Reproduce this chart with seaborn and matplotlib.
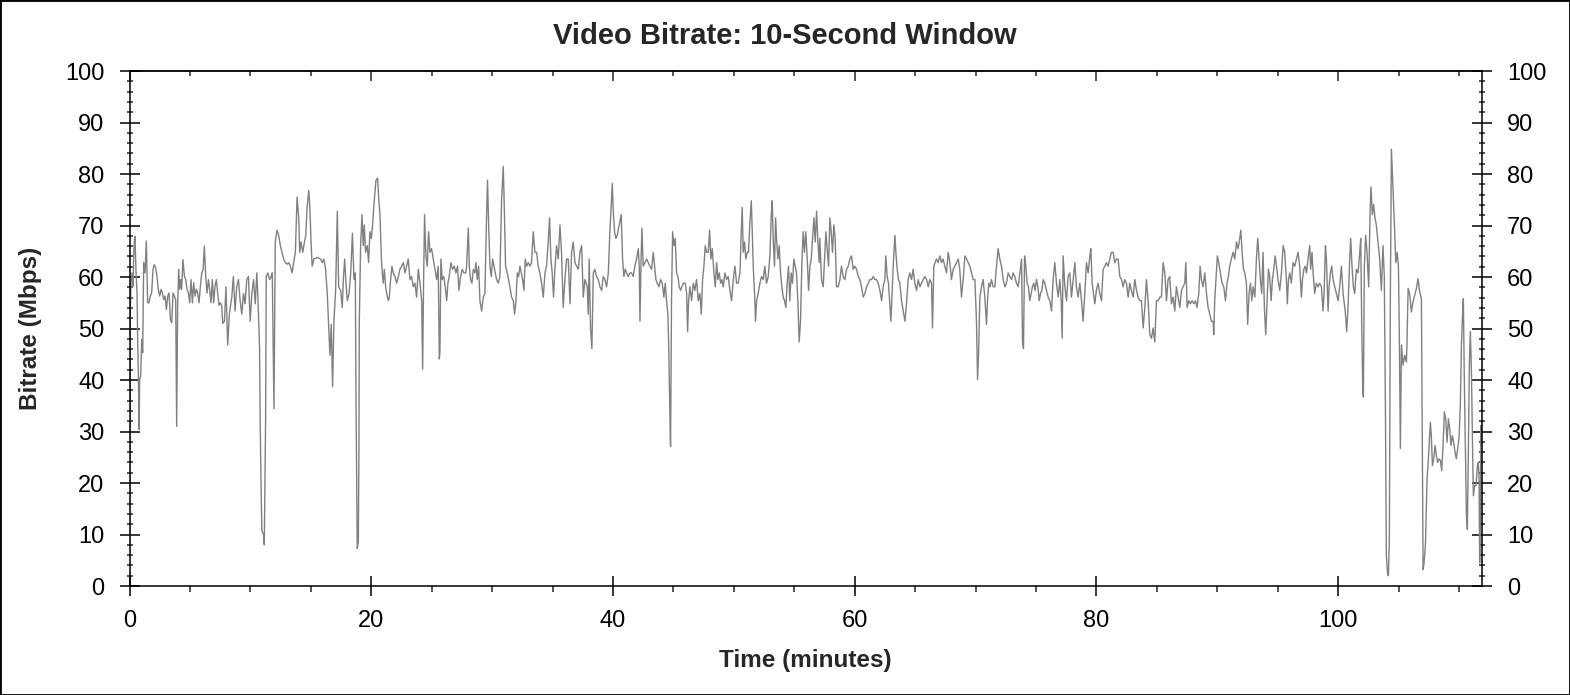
import matplotlib
matplotlib.use("Agg")
import matplotlib.pyplot as plt
from matplotlib.patches import Rectangle
from matplotlib.ticker import MultipleLocator
import pandas as pd
import seaborn as sns


TITLE = "Video Bitrate: 10-Second Window"
X_LABEL = "Time (minutes)"
Y_LABEL = "Bitrate (Mbps)"
X_MAX = 111.9
Y_MAX = 100
LINE_COLOR = "#808080"
OUTPUT_FILE = "out.png"


##############################################################################
# DATA  (minute, Mbps) pairs
##############################################################################

trace_00_08 = [
    (0.00, 0.0), (0.04, 50.5), (0.12, 58.9), (0.21, 60.8), (0.29, 58.2), (0.37, 66.0),
    (0.45, 67.9), (0.54, 60.8), (0.62, 56.9), (0.68, 46.6), (0.73, 41.4), (0.79, 30.4),
    (0.84, 40.1), (0.92, 40.7), (1.01, 47.9), (1.09, 45.3), (1.17, 62.8), (1.28, 60.8),
    (1.39, 67.0), (1.50, 55.0), (1.61, 55.0), (1.72, 56.3), (1.83, 56.9), (1.94, 61.5),
    (2.05, 62.4), (2.16, 61.8), (2.27, 60.2), (2.38, 57.6), (2.50, 56.3), (2.61, 57.6),
    (2.72, 56.9), (2.83, 55.6), (2.94, 56.3), (3.05, 53.7), (3.16, 56.3), (3.27, 56.9),
    (3.38, 51.7), (3.49, 51.1), (3.60, 56.9), (3.71, 56.3), (3.82, 55.6), (3.90, 31.0),
    (3.98, 54.3), (4.07, 61.5), (4.15, 57.6), (4.23, 59.5), (4.31, 57.6), (4.42, 63.4),
    (4.54, 60.2), (4.65, 59.5), (4.76, 57.6), (4.87, 56.9), (4.98, 55.0), (5.09, 59.5),
    (5.20, 55.0), (5.31, 58.9), (5.42, 56.3), (5.53, 57.6), (5.64, 56.9), (5.75, 55.0),
    (5.86, 58.2), (5.98, 60.8), (6.09, 61.5), (6.19, 66.0), (6.30, 60.2), (6.41, 56.9),
    (6.53, 59.5), (6.63, 57.6), (6.74, 55.0), (6.85, 59.5), (6.96, 55.0), (7.07, 58.2),
    (7.18, 59.5), (7.29, 56.9), (7.40, 54.5), (7.51, 55.0), (7.62, 54.5), (7.71, 51.0),
]

trace_08_18 = [
    (7.85, 51.4), (7.98, 58.1), (8.12, 46.8), (8.26, 52.8), (8.46, 56.1), (8.59, 60.1),
    (8.73, 53.4), (8.87, 58.1), (9.01, 59.5), (9.15, 55.4), (9.29, 52.8), (9.43, 56.8),
    (9.56, 54.8), (9.70, 59.5), (9.84, 60.1), (9.98, 51.4), (10.12, 56.8), (10.26, 59.5),
    (10.40, 54.8), (10.53, 60.8), (10.62, 56.1), (10.76, 46.1), (10.81, 31.4), (10.90, 16.7),
    (10.95, 10.7), (11.09, 10.0), (11.15, 8.0), (11.26, 32.7), (11.31, 60.1), (11.45, 60.8),
    (11.59, 59.5), (11.73, 60.1), (11.81, 60.8), (11.87, 48.8), (11.95, 34.4), (12.06, 66.8),
    (12.20, 69.1), (12.34, 68.1), (12.48, 66.1), (12.61, 64.8), (12.75, 63.5), (12.89, 62.8),
    (13.03, 62.5), (13.17, 62.8), (13.31, 62.1), (13.45, 60.8), (13.58, 62.8), (13.72, 64.8),
    (13.86, 75.5), (14.00, 71.5), (14.08, 64.8), (14.19, 66.8), (14.33, 64.8), (14.47, 66.8),
    (14.58, 68.1), (14.69, 73.5), (14.83, 76.8), (14.92, 73.5), (15.03, 66.1), (15.11, 62.1),
    (15.25, 63.5), (15.53, 63.8), (15.80, 63.5), (15.94, 62.8), (16.08, 63.5), (16.22, 61.5),
    (16.36, 56.8), (16.50, 49.4), (16.58, 44.8), (16.69, 50.8), (16.80, 38.7), (16.91, 51.4),
    (17.05, 57.4), (17.19, 72.8), (17.30, 58.1), (17.47, 57.4), (17.60, 54.1), (17.69, 59.5),
    (17.80, 63.5), (17.91, 58.8), (18.02, 55.4), (18.16, 56.8), (18.30, 60.8), (18.44, 68.5),
]

trace_18_38 = [
    (18.57, 59.5), (18.68, 60.8), (18.74, 35.4), (18.84, 7.3), (18.93, 8.7), (18.98, 26.7),
    (19.01, 51.4), (19.12, 66.1), (19.23, 72.1), (19.34, 66.1), (19.42, 70.1), (19.53, 64.8),
    (19.67, 66.1), (19.78, 62.8), (19.89, 68.8), (20.00, 67.5), (20.11, 70.1), (20.22, 74.1),
    (20.39, 78.8), (20.53, 79.2), (20.61, 75.5), (20.72, 72.1), (20.83, 64.1), (20.91, 60.8),
    (20.99, 58.8), (21.08, 61.5), (21.19, 58.1), (21.27, 56.8), (21.41, 55.4), (21.49, 56.1),
    (21.60, 59.5), (21.71, 62.1), (21.82, 60.8), (21.96, 60.1), (22.10, 58.8), (22.24, 60.1),
    (22.37, 61.5), (22.51, 62.1), (22.65, 62.8), (22.79, 60.8), (22.92, 62.1), (23.06, 63.5),
    (23.20, 59.5), (23.34, 60.1), (23.48, 58.1), (23.61, 58.8), (23.75, 56.1), (23.89, 61.5),
    (24.03, 58.8), (24.17, 55.4), (24.25, 42.1), (24.33, 59.5), (24.41, 72.1), (24.52, 64.1),
    (24.63, 62.1), (24.74, 68.8), (24.86, 64.8), (24.99, 65.5), (25.13, 63.5), (25.27, 61.5),
    (25.41, 59.5), (25.54, 62.1), (25.63, 44.1), (25.68, 45.4), (25.76, 63.5), (25.87, 59.5),
    (25.99, 60.1), (26.12, 58.1), (26.24, 55.4), (26.34, 58.8), (26.45, 60.1), (26.59, 62.8),
    (26.73, 61.5), (26.87, 62.1), (27.00, 60.8), (27.14, 62.1), (27.25, 57.4), (27.39, 60.1),
    (27.53, 61.5), (27.67, 60.8), (27.81, 60.8), (27.89, 62.1), (28.03, 69.5), (28.11, 62.1),
    (28.22, 59.5), (28.33, 58.8), (28.44, 61.5), (28.58, 60.8), (28.66, 62.8), (28.77, 59.5),
    (28.88, 62.1), (28.99, 55.4), (29.13, 53.4), (29.27, 56.1), (29.40, 56.8), (29.54, 72.1),
    (29.62, 78.8), (29.71, 70.1), (29.82, 62.1), (29.93, 60.1), (30.04, 63.5), (30.15, 62.1),
    (30.26, 60.8), (30.37, 59.5), (30.51, 58.8), (30.64, 60.1), (30.78, 74.8), (30.92, 81.5),
    (31.00, 74.1), (31.11, 62.1), (31.25, 60.8), (31.36, 59.5), (31.47, 58.1), (31.61, 56.1),
    (31.75, 55.4), (31.86, 52.8), (31.97, 55.4), (32.08, 60.8), (32.19, 60.1), (32.30, 62.1),
    (32.41, 60.8), (32.52, 59.5), (32.63, 57.4), (32.74, 63.5), (32.85, 62.1), (32.99, 62.8),
    (33.13, 62.1), (33.26, 62.8), (33.40, 68.8), (33.54, 64.8), (33.68, 64.8), (33.81, 62.1),
    (33.95, 60.8), (34.09, 58.8), (34.23, 56.1), (34.37, 60.8), (34.50, 62.1), (34.64, 66.8),
    (34.75, 71.5), (34.86, 63.5), (34.97, 60.8), (35.08, 56.1), (35.19, 61.5), (35.33, 66.1),
    (35.47, 63.5), (35.61, 70.1), (35.74, 64.8), (35.88, 54.1), (36.02, 59.5), (36.16, 63.5),
    (36.30, 63.5), (36.44, 54.8), (36.57, 64.8), (36.71, 66.8), (36.85, 62.8), (36.99, 62.1),
    (37.13, 61.5), (37.26, 64.8), (37.40, 66.1), (37.54, 56.1), (37.68, 59.5),
]

trace_38_57 = [
    (37.87, 58.1), (37.95, 52.8), (38.03, 63.5), (38.14, 50.1), (38.25, 46.1), (38.37, 60.8),
    (38.50, 61.5), (38.64, 60.1), (38.78, 59.5), (38.92, 58.1), (39.06, 57.4), (39.19, 60.1),
    (39.33, 59.5), (39.47, 58.1), (39.61, 60.8), (39.74, 68.8), (39.83, 72.8), (39.94, 78.2),
    (40.02, 72.8), (40.13, 68.8), (40.24, 67.5), (40.35, 68.1), (40.46, 69.5), (40.57, 70.8),
    (40.68, 72.1), (40.79, 63.5), (40.90, 60.1), (41.01, 61.5), (41.12, 60.8), (41.26, 60.1),
    (41.40, 60.8), (41.54, 60.8), (41.67, 60.1), (41.81, 62.1), (41.95, 63.5), (42.09, 65.5),
    (42.17, 62.1), (42.23, 51.4), (42.31, 62.1), (42.39, 69.5), (42.50, 62.1), (42.64, 62.8),
    (42.78, 63.5), (42.91, 62.8), (43.05, 62.1), (43.19, 61.5), (43.33, 64.8), (43.44, 62.1),
    (43.55, 59.5), (43.66, 58.8), (43.80, 58.1), (43.94, 59.5), (44.07, 58.8), (44.21, 56.1),
    (44.32, 58.8), (44.43, 55.4), (44.54, 52.8), (44.62, 45.4), (44.71, 32.7), (44.76, 27.1),
    (44.84, 55.4), (44.93, 68.8), (45.04, 66.1), (45.15, 67.5), (45.26, 60.8), (45.37, 60.1),
    (45.48, 58.1), (45.59, 57.4), (45.70, 58.1), (45.81, 58.8), (45.98, 58.8), (46.09, 56.8),
    (46.17, 49.4), (46.25, 55.4), (46.36, 58.1), (46.50, 55.4), (46.64, 58.8), (46.77, 57.4),
    (46.91, 59.5), (47.05, 55.4), (47.19, 56.8), (47.30, 52.8), (47.41, 59.5), (47.52, 62.1),
    (47.63, 66.1), (47.74, 64.8), (47.88, 64.8), (47.99, 69.1), (48.10, 63.5), (48.21, 65.5),
    (48.35, 60.8), (48.46, 58.1), (48.57, 62.8), (48.68, 59.5), (48.79, 60.8), (48.90, 58.8),
    (49.01, 59.5), (49.12, 58.1), (49.26, 60.8), (49.39, 59.5), (49.53, 60.1), (49.67, 57.4),
    (49.81, 55.4), (49.95, 59.5), (50.09, 62.1), (50.22, 58.8), (50.36, 58.8), (50.50, 60.8),
    (50.61, 68.8), (50.69, 73.5), (50.77, 64.8), (50.88, 66.8), (50.99, 63.5), (51.10, 64.8),
    (51.21, 64.8), (51.33, 70.8), (51.44, 74.8), (51.52, 68.8), (51.60, 62.1), (51.71, 56.8),
    (51.79, 51.4), (51.88, 55.4), (52.01, 56.8), (52.15, 58.8), (52.29, 60.1), (52.43, 59.5),
    (52.56, 62.1), (52.70, 58.8), (52.84, 60.1), (52.98, 64.1), (53.09, 72.1), (53.17, 74.8),
    (53.25, 67.5), (53.36, 62.1), (53.45, 71.5), (53.53, 67.5), (53.64, 63.5), (53.75, 66.1),
    (53.86, 60.8), (53.97, 58.1), (54.08, 56.1), (54.19, 55.4), (54.30, 54.1), (54.41, 58.8),
    (54.52, 62.1), (54.63, 55.4), (54.74, 60.8), (54.85, 58.8), (54.96, 63.5), (55.07, 62.1),
    (55.18, 60.8), (55.29, 55.4), (55.40, 47.4), (55.51, 51.4), (55.62, 62.1), (55.73, 68.8),
    (55.84, 64.8), (55.95, 68.8), (56.07, 63.5), (56.18, 57.4), (56.29, 62.1), (56.40, 63.5),
    (56.51, 67.5), (56.62, 71.5), (56.73, 66.8), (56.84, 72.8), (56.95, 66.8), (57.06, 62.8),
]

trace_57_76 = [
    (57.11, 67.5), (57.25, 59.5), (57.39, 58.1), (57.50, 63.5), (57.61, 68.8), (57.72, 65.5),
    (57.83, 62.1), (57.94, 71.5), (58.05, 68.8), (58.16, 64.8), (58.27, 70.1), (58.38, 67.5),
    (58.49, 58.1), (58.63, 58.1), (58.77, 59.5), (58.90, 62.1), (59.04, 60.1), (59.18, 59.5),
    (59.32, 61.5), (59.46, 62.1), (59.60, 63.5), (59.73, 64.1), (59.87, 61.5), (60.01, 62.1),
    (60.15, 61.5), (60.29, 60.1), (60.42, 59.5), (60.56, 58.1), (60.70, 56.1), (60.84, 56.8),
    (60.98, 58.1), (61.11, 58.8), (61.25, 59.5), (61.39, 59.5), (61.53, 60.1), (61.66, 59.5),
    (61.80, 59.5), (61.94, 58.8), (62.08, 57.4), (62.22, 55.4), (62.35, 58.1), (62.49, 59.5),
    (62.57, 64.1), (62.68, 60.1), (62.79, 58.8), (62.90, 54.8), (62.99, 51.4), (63.07, 56.1),
    (63.18, 62.1), (63.32, 68.1), (63.40, 64.8), (63.51, 61.5), (63.62, 59.5), (63.73, 58.8),
    (63.87, 55.4), (64.01, 53.4), (64.15, 51.4), (64.28, 54.8), (64.42, 59.5), (64.56, 60.8),
    (64.70, 59.5), (64.83, 61.5), (64.97, 58.8), (65.11, 57.4), (65.25, 59.5), (65.39, 58.1),
    (65.52, 58.8), (65.66, 59.5), (65.80, 60.1), (65.94, 59.5), (66.08, 58.1), (66.21, 59.5),
    (66.35, 58.8), (66.43, 50.1), (66.54, 62.1), (66.65, 62.8), (66.76, 63.5), (66.90, 62.8),
    (67.04, 64.1), (67.18, 62.8), (67.31, 63.5), (67.45, 62.1), (67.59, 60.8), (67.73, 64.8),
    (67.87, 62.8), (68.00, 59.5), (68.14, 61.5), (68.28, 62.1), (68.42, 62.8), (68.56, 63.5),
    (68.69, 61.5), (68.83, 56.1), (68.97, 59.5), (69.11, 64.1), (69.25, 63.5), (69.38, 62.8),
    (69.52, 62.1), (69.66, 60.8), (69.80, 59.5), (69.94, 59.5), (70.07, 51.4), (70.16, 40.1),
    (70.24, 44.8), (70.35, 56.1), (70.49, 58.1), (70.62, 59.5), (70.76, 56.1), (70.90, 50.8),
    (70.98, 55.4), (71.09, 58.8), (71.20, 58.1), (71.31, 59.5), (71.45, 58.1), (71.59, 58.1),
    (71.73, 62.1), (71.86, 65.5), (72.00, 63.5), (72.14, 62.1), (72.28, 59.5), (72.42, 58.1),
    (72.55, 58.8), (72.69, 60.8), (72.83, 60.1), (72.97, 59.5), (73.11, 60.8), (73.24, 60.1),
    (73.38, 58.8), (73.52, 58.1), (73.66, 60.8), (73.80, 63.5), (73.88, 47.4), (73.96, 46.1),
    (74.05, 64.1), (74.15, 62.1), (74.26, 58.8), (74.37, 58.1), (74.48, 55.4), (74.59, 56.8),
    (74.70, 58.1), (74.81, 58.8), (74.92, 57.4), (75.03, 59.5), (75.15, 58.1), (75.26, 55.4),
    (75.37, 56.8), (75.48, 57.4), (75.59, 59.5),
]

trace_76_95 = [
    (75.72, 58.8), (75.86, 57.4), (76.00, 56.1), (76.14, 55.4), (76.28, 53.4), (76.41, 59.5),
    (76.55, 62.8), (76.69, 58.8), (76.83, 56.1), (76.97, 59.5), (77.08, 55.4), (77.16, 48.1),
    (77.24, 64.1), (77.38, 58.1), (77.52, 55.4), (77.65, 60.1), (77.79, 60.8), (77.93, 56.1),
    (78.07, 59.5), (78.21, 62.8), (78.34, 58.1), (78.48, 56.1), (78.62, 58.8), (78.76, 55.4),
    (78.89, 51.4), (79.03, 56.8), (79.17, 62.8), (79.31, 60.8), (79.45, 64.1), (79.53, 65.5),
    (79.64, 58.8), (79.75, 56.8), (79.86, 54.8), (79.99, 57.4), (80.13, 58.8), (80.27, 56.8),
    (80.41, 55.4), (80.55, 61.5), (80.69, 62.1), (80.82, 62.8), (80.96, 62.1), (81.10, 63.5),
    (81.24, 64.8), (81.38, 64.8), (81.51, 62.8), (81.65, 63.5), (81.79, 63.5), (81.93, 60.1),
    (82.07, 59.5), (82.20, 58.1), (82.34, 59.5), (82.48, 58.8), (82.62, 56.1), (82.75, 58.8),
    (82.89, 57.4), (83.03, 56.1), (83.17, 59.5), (83.31, 57.4), (83.44, 56.1), (83.58, 55.4),
    (83.72, 55.4), (83.86, 50.1), (84.00, 54.1), (84.13, 59.5), (84.27, 55.4), (84.41, 48.8),
    (84.55, 48.1), (84.68, 50.1), (84.82, 47.4), (84.96, 55.4), (85.10, 55.4), (85.24, 56.1),
    (85.37, 56.1), (85.51, 62.8), (85.65, 60.8), (85.79, 55.4), (85.92, 59.5), (86.06, 60.1),
    (86.20, 54.8), (86.34, 56.1), (86.48, 53.4), (86.61, 58.1), (86.75, 56.1), (86.89, 54.1),
    (87.03, 57.4), (87.17, 58.1), (87.30, 58.8), (87.39, 62.8), (87.50, 54.1), (87.63, 55.4),
    (87.77, 54.8), (87.91, 55.4), (88.05, 54.8), (88.19, 55.4), (88.32, 54.1), (88.46, 56.8),
    (88.57, 62.1), (88.68, 59.5), (88.82, 58.1), (88.96, 60.8), (89.10, 56.8), (89.23, 54.1),
    (89.37, 52.8), (89.51, 51.4), (89.65, 51.4), (89.70, 48.8), (89.78, 55.4), (89.92, 60.8),
    (90.00, 64.1), (90.11, 62.8), (90.25, 60.8), (90.39, 58.8), (90.53, 58.1), (90.67, 55.4),
    (90.80, 58.8), (90.91, 60.1), (91.02, 62.1), (91.16, 63.5), (91.30, 64.8), (91.44, 63.5),
    (91.58, 66.8), (91.71, 65.5), (91.85, 67.5), (91.94, 69.1), (92.05, 64.8), (92.16, 61.5),
    (92.27, 60.8), (92.40, 58.8), (92.51, 50.8), (92.62, 56.8), (92.74, 58.8), (92.85, 55.4),
    (92.96, 58.1), (93.10, 56.1), (93.23, 63.5), (93.34, 67.5), (93.45, 63.5), (93.56, 59.5),
    (93.67, 56.8), (93.78, 64.8), (93.89, 54.1), (94.00, 48.8), (94.11, 55.4), (94.22, 61.5),
    (94.33, 60.1), (94.45, 55.4), (94.55, 59.5), (94.67, 61.5), (94.78, 64.1), (94.89, 62.1),
]

trace_95_112 = [
    (95.02, 59.5), (95.16, 57.4), (95.30, 60.8), (95.44, 66.1), (95.57, 64.8), (95.71, 59.5),
    (95.79, 54.8), (95.88, 59.5), (95.99, 60.8), (96.12, 58.8), (96.26, 62.8), (96.40, 62.1),
    (96.54, 63.5), (96.68, 64.8), (96.81, 62.1), (96.95, 56.1), (97.04, 59.5), (97.15, 61.5),
    (97.26, 62.1), (97.37, 60.8), (97.50, 63.5), (97.64, 66.1), (97.72, 61.5), (97.83, 64.8),
    (97.92, 60.8), (98.05, 56.8), (98.19, 58.8), (98.33, 58.1), (98.47, 58.8), (98.61, 58.1),
    (98.74, 53.4), (98.83, 56.8), (98.94, 66.1), (99.02, 63.5), (99.16, 53.4), (99.24, 58.1),
    (99.35, 60.8), (99.46, 62.1), (99.57, 59.5), (99.71, 58.1), (99.85, 56.8), (99.99, 55.4),
    (100.12, 58.1), (100.26, 62.1), (100.40, 56.8), (100.54, 54.1), (100.62, 52.1), (100.70, 49.4),
    (100.81, 54.1), (100.95, 63.5), (101.03, 67.5), (101.14, 62.1), (101.25, 58.1), (101.36, 56.8),
    (101.50, 61.5), (101.64, 60.8), (101.78, 64.8), (101.86, 67.5), (101.94, 51.4), (102.03, 38.1),
    (102.08, 36.7), (102.16, 62.1), (102.27, 68.1), (102.38, 64.8), (102.52, 58.1), (102.63, 72.1),
    (102.71, 77.5), (102.82, 72.1), (102.93, 74.1), (103.04, 71.5), (103.15, 70.1), (103.29, 66.8),
    (103.43, 63.5), (103.57, 57.4), (103.70, 66.1), (103.81, 60.1), (103.90, 35.4), (103.98, 6.0),
    (104.07, 2.7), (104.15, 2.0), (104.23, 9.4), (104.31, 55.4), (104.40, 84.8), (104.48, 80.2),
    (104.59, 74.1), (104.67, 68.8), (104.76, 62.8), (104.87, 64.8), (104.98, 62.1), (105.06, 47.4),
    (105.14, 26.7), (105.23, 46.8), (105.36, 42.9), (105.50, 44.8), (105.64, 43.5), (105.69, 47.4),
    (105.78, 57.8), (105.92, 56.5), (106.05, 53.2), (106.19, 55.2), (106.33, 56.5), (106.47, 57.8),
    (106.60, 59.7), (106.74, 57.1), (106.88, 55.8), (106.96, 27.3), (107.02, 3.2), (107.10, 4.5),
    (107.21, 7.8), (107.35, 20.8), (107.49, 26.0), (107.62, 31.8), (107.70, 29.2), (107.79, 23.4),
    (107.90, 24.7), (108.01, 27.3), (108.12, 25.3), (108.23, 24.0), (108.34, 24.7), (108.45, 24.4),
    (108.56, 22.4), (108.67, 27.3), (108.78, 33.8), (108.89, 32.5), (109.00, 27.9), (109.11, 32.5),
    (109.22, 30.5), (109.33, 27.3), (109.44, 29.2), (109.55, 27.9), (109.66, 26.0), (109.77, 24.7),
    (109.88, 26.6), (109.99, 28.6), (110.10, 35.1), (110.19, 46.8), (110.27, 51.9), (110.35, 55.8),
    (110.43, 40.3), (110.52, 26.0), (110.60, 14.3), (110.68, 11.0), (110.77, 27.3), (110.85, 43.5),
    (110.93, 49.4), (111.02, 41.6), (111.10, 28.6), (111.18, 17.5), (111.29, 19.5), (111.40, 19.5),
    (111.51, 23.4), (111.59, 24.0), (111.65, 20.8), (111.70, 4.5), (111.76, 14.3), (111.81, 31.2),
    (111.84, 27.3),
]

segments = [trace_00_08, trace_08_18, trace_18_38, trace_38_57,
            trace_57_76, trace_76_95, trace_95_112]
df = pd.DataFrame([p for seg in segments for p in seg], columns=["minutes", "mbps"])


##############################################################################
# PLOT
##############################################################################

sns.set_style("white")
plt.rcParams["font.family"] = ["Liberation Sans", "DejaVu Sans"]

fig = plt.figure(figsize=(15.7, 6.95), dpi=100)
ax = fig.add_axes([0.0825, 0.1568, 0.8615, 0.741])

sns.lineplot(data=df, x="minutes", y="mbps", ax=ax, color=LINE_COLOR,
             linewidth=1.0, estimator=None, sort=False)

ax.set_xlim(0, X_MAX)
ax.set_ylim(0, Y_MAX)

ax.xaxis.set_major_locator(MultipleLocator(20))
ax.xaxis.set_minor_locator(MultipleLocator(5))
ax.yaxis.set_major_locator(MultipleLocator(10))
ax.yaxis.set_minor_locator(MultipleLocator(2))

for side in ["left", "right", "top", "bottom"]:
    ax.spines[side].set_visible(True)
    ax.spines[side].set_color("black")
    ax.spines[side].set_linewidth(1.1)

ax.tick_params(axis="y", which="major", direction="inout", length=14, width=1.1,
               left=True, right=True, labelleft=True, labelright=True,
               labelsize=17, pad=11, colors="black")
ax.tick_params(axis="y", which="minor", direction="inout", length=5, width=1.1,
               left=True, right=True)
ax.tick_params(axis="x", which="major", direction="inout", length=14, width=1.1,
               bottom=True, top=False, labelsize=17, pad=10, colors="black")
ax.tick_params(axis="x", which="minor", direction="out", length=4, width=1.1,
               bottom=True, top=False)

# top edge: inward ticks only
top = ax.secondary_xaxis("top")
top.xaxis.set_major_locator(MultipleLocator(20))
top.xaxis.set_minor_locator(MultipleLocator(5))
top.tick_params(which="major", direction="in", length=7, width=1.1, labeltop=False)
top.tick_params(which="minor", direction="in", length=3.6, width=1.1)
top.spines["top"].set_linewidth(1.1)

ax.set_xlabel(X_LABEL, fontsize=17.5, fontweight="bold")
ax.set_ylabel(Y_LABEL, fontsize=17.5, fontweight="bold")
ax.xaxis.set_label_coords(0.5, -0.122)
ax.yaxis.set_label_coords(-0.0647, 0.5)

fig.text(0.5, 1 - 44 / 695, TITLE, ha="center", va="baseline",
         fontsize=21, fontweight="bold")

fig.patches.append(Rectangle((0, 0), 1, 1, transform=fig.transFigure, fill=False,
                             edgecolor="black", linewidth=2))

fig.savefig(OUTPUT_FILE, dpi=100, facecolor="white")
